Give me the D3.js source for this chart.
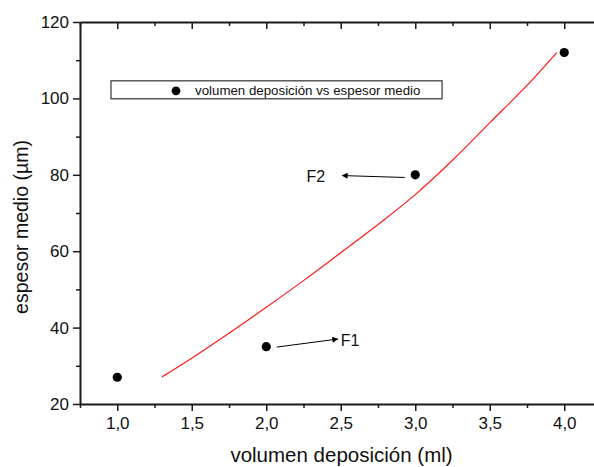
<!DOCTYPE html>
<html>
<head>
<meta charset="utf-8">
<script src="https://cdn.jsdelivr.net/npm/d3@7"></script>
<style>
html,body{margin:0;padding:0;background:#fff;}
svg{display:block;font-family:"Liberation Sans",Arial,Helvetica,sans-serif;}
</style>
</head>
<body>
<svg id="chart" width="594" height="467"></svg>
<script>
// ---- data ----
const volumen = [1.0, 2.0, 3.0, 4.0];
const espesor = [27, 35, 80, 112];
const fitX = [1.3, 1.5, 1.75, 2.0, 2.25, 2.5, 2.75, 3.0, 3.25, 3.5, 3.75, 3.95];
const fitY = [27.1, 32.0, 38.5, 45.3, 52.3, 59.6, 67.0, 74.8, 83.8, 93.6, 103.4, 112.0];
const xMajorTicks = [1.0, 1.5, 2.0, 2.5, 3.0, 3.5, 4.0];
const xMinorTicks = [0.75, 1.25, 1.75, 2.25, 2.75, 3.25, 3.75, 4.25];
const yMajorTicks = [20, 40, 60, 80, 100, 120];
const yMinorTicks = [30, 50, 70, 90, 110];
const xTitle = "volumen deposición (ml)";
const yTitle = "espesor medio (µm)";
const legendLabel = "volumen deposición vs espesor medio";
// annotations: label, arrow start (data), arrow end (data), label position (data)
const annoLabels = ["F1", "F2"];
const annoFrom = [[2.07, 34.9], [2.93, 79.3]];
const annoTo = [[2.48, 37.0], [2.51, 79.8]];
const annoText = [[2.5, 36.8], [2.27, 79.8]];

// ---- layout ----
const svg = d3.select("#chart");
const L = 80, B = 404, T = 22;
const x = d3.scaleLinear().domain([0.75, 4.25]).range([L, L + 3.5 * 149]);
const y = d3.scaleLinear().domain([20, 120]).range([B, T]);
const R = x(4.25);

const loc = d3.formatLocale({decimal: ",", thousands: ".", grouping: [3], currency: ["", ""]});
const fmtX = loc.format(".1f");

const axisColor = "#1a1a1a";
function styleAxis(g) {
  g.selectAll("path.domain").attr("stroke", axisColor).attr("stroke-width", 2);
  g.selectAll(".tick line").attr("stroke", axisColor).attr("stroke-width", 1.5);
  g.selectAll(".tick text").attr("fill", "#111").style("font-size", "17px")
    .style("font-family", '"Liberation Sans",Arial,sans-serif');
}

// bottom axis
const gB = svg.append("g").attr("transform", `translate(0,${B})`)
  .call(d3.axisBottom(x).tickValues(xMajorTicks).tickFormat(fmtX).tickSize(7).tickSizeOuter(0).tickPadding(6));
styleAxis(gB);
svg.append("g").attr("transform", `translate(0,${B})`)
  .call(d3.axisBottom(x).tickValues(xMinorTicks).tickFormat("").tickSize(4).tickSizeOuter(0))
  .call(g => { g.select("path.domain").remove(); g.selectAll(".tick line").attr("stroke", axisColor).attr("stroke-width", 1.5); });

// top axis (ticks inward)
const gT = svg.append("g").attr("transform", `translate(0,${T})`)
  .call(d3.axisBottom(x).tickValues(xMajorTicks).tickFormat("").tickSize(7).tickSizeOuter(0));
styleAxis(gT);
svg.append("g").attr("transform", `translate(0,${T})`)
  .call(d3.axisBottom(x).tickValues(xMinorTicks).tickFormat("").tickSize(4).tickSizeOuter(0))
  .call(g => { g.select("path.domain").remove(); g.selectAll(".tick line").attr("stroke", axisColor).attr("stroke-width", 1.5); });

// left axis
const gL = svg.append("g").attr("transform", `translate(${L},0)`)
  .call(d3.axisLeft(y).tickValues(yMajorTicks).tickFormat(d3.format("d")).tickSize(7).tickSizeOuter(0).tickPadding(4));
styleAxis(gL);
svg.append("g").attr("transform", `translate(${L},0)`)
  .call(d3.axisLeft(y).tickValues(yMinorTicks).tickFormat("").tickSize(4).tickSizeOuter(0))
  .call(g => { g.select("path.domain").remove(); g.selectAll(".tick line").attr("stroke", axisColor).attr("stroke-width", 1.5); });

// right axis (ticks inward, mostly off-canvas)
const gR = svg.append("g").attr("transform", `translate(${R},0)`)
  .call(d3.axisLeft(y).tickValues(yMajorTicks).tickFormat("").tickSize(7).tickSizeOuter(0));
styleAxis(gR);
gR.selectAll(".tick line").attr("stroke", "#bbb");

// axis titles
svg.append("text").attr("x", 341.5).attr("y", 462).attr("text-anchor", "middle")
  .style("font-size", "20.5px").attr("fill", "#111").text(xTitle);
svg.append("text").attr("transform", `translate(28,${(T + B) / 2 + 14}) rotate(-90)`).attr("text-anchor", "middle")
  .style("font-size", "19.5px").attr("fill", "#111").text(yTitle);

// fit curve
const line = d3.line().x(d => x(d[0])).y(d => y(d[1])).curve(d3.curveMonotoneX);
svg.append("path").datum(fitX.map((v, i) => [v, fitY[i]]))
  .attr("d", line).attr("fill", "none").attr("stroke", "#ff1a1a").attr("stroke-width", 1.2);

// points
svg.append("g").selectAll("circle").data(volumen.map((v, i) => [v, espesor[i]]))
  .join("circle").attr("cx", d => x(d[0])).attr("cy", d => y(d[1])).attr("r", 4.6).attr("fill", "#000");

// legend
const lgX0 = x(0.958), lgX1 = x(3.18), lgY0 = y(104.6), lgY1 = y(99.9);
svg.append("rect").attr("x", lgX0).attr("y", lgY0).attr("width", lgX1 - lgX0).attr("height", lgY1 - lgY0)
  .attr("fill", "#fff").attr("stroke", "#333").attr("stroke-width", 1.2);
svg.append("circle").attr("cx", lgX0 + 65).attr("cy", (lgY0 + lgY1) / 2 + 1).attr("r", 4.4).attr("fill", "#000");
svg.append("text").attr("x", lgX0 + 84).attr("y", (lgY0 + lgY1) / 2 + 5)
  .style("font-size", "13.3px").attr("fill", "#111").text(legendLabel);

// annotation arrows
const defs = svg.append("defs");
defs.append("marker").attr("id", "ah").attr("viewBox", "0 0 10 10").attr("refX", 9).attr("refY", 5)
  .attr("markerWidth", 9).attr("markerHeight", 6).attr("markerUnits", "userSpaceOnUse").attr("orient", "auto")
  .append("path").attr("d", "M0,0 L10,5 L0,10 Z").attr("fill", "#000");
annoLabels.forEach((lab, i) => {
  svg.append("line").attr("x1", x(annoFrom[i][0])).attr("y1", y(annoFrom[i][1]))
    .attr("x2", x(annoTo[i][0])).attr("y2", y(annoTo[i][1]))
    .attr("stroke", "#000").attr("stroke-width", 1).attr("marker-end", "url(#ah)");
  svg.append("text").attr("x", x(annoText[i][0])).attr("y", y(annoText[i][1]) + 6)
    .style("font-size", "16px").attr("fill", "#111").text(lab);
});
</script>
</body>
</html>
